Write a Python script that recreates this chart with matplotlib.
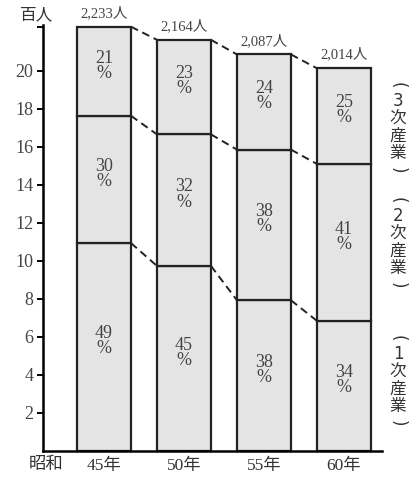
import numpy as np
import matplotlib
matplotlib.use('Agg')
import matplotlib.pyplot as plt

plt.rcParams['font.family'] = ['Liberation Serif', 'Noto Sans CJK JP', 'DejaVu Sans']

# data
years = ['45年', '50年', '55年', '60年']
totals = [2233, 2164, 2087, 2014]          # 人 (百人 on axis)
share_1 = [49, 45, 38, 34]                 # 1次産業 %
share_2 = [30, 32, 38, 41]                 # 2次産業 %
share_3 = [21, 23, 24, 25]                 # 3次産業 %
total_labels = ['2,233人', '2,164人', '2,087人', '2,014人']

tot = np.array(totals) / 100.0
s1 = tot * np.array(share_1) / 100
s2 = tot * np.array(share_2) / 100
s3 = tot * np.array(share_3) / 100

fig = plt.figure(figsize=(4.19, 4.79), dpi=100)
ax = fig.add_axes([0.1026, 0.0585, 0.809, 0.8885])

x = np.arange(len(years))
w = 0.675
fill = '#e4e4e4'
for bottom, h in [(0, s1), (s1, s2), (s1 + s2, s3)]:
    ax.bar(x, h, w, bottom=bottom, color=fill, edgecolor='#222222', linewidth=1.6)

# dashed connectors between segment tops
for level in [s1, s1 + s2, tot]:
    for i in range(len(x) - 1):
        ax.plot([x[i] + w / 2, x[i + 1] - w / 2], [level[i], level[i + 1]],
                ls=(0, (4, 2.5)), color='#222222', lw=1.4)

# percentage labels
for bottom, h, sh in [(np.zeros(4), s1, share_1), (s1, s2, share_2), (s1 + s2, s3, share_3)]:
    for i in range(len(x)):
        ax.text(x[i], bottom[i] + h[i] / 2 + 0.3, f'{sh[i]}\n%', ha='center', va='center',
                fontsize=13, color='#444444', linespacing=0.85)

# totals above bars
for i in range(len(x)):
    ax.text(x[i], tot[i] + 0.35, total_labels[i], ha='center', va='bottom',
            fontsize=10.5, color='#444444')

ax.set_xlim(-0.7625, 3.475)
ax.set_ylim(0, 22.4)
ax.set_yticks([2, 4, 6, 8, 10, 12, 14, 16, 18, 20, 22.3])
ax.set_yticklabels(['2', '4', '6', '8', '10', '12', '14', '16', '18', '20', ''])
ax.set_xticks(x)
ax.set_xticklabels(years)
ax.tick_params(axis='y', direction='out', length=4, width=1.4, labelsize=13, pad=3,
               labelcolor='#444444')
ax.tick_params(axis='x', length=0, labelsize=12.5, pad=5, labelcolor='#333333')
for sp in ['top', 'right']:
    ax.spines[sp].set_visible(False)
ax.spines['left'].set_linewidth(1.8)
ax.spines['bottom'].set_linewidth(1.8)

fig.text(37 / 419, 1 - 15 / 479, '百人', fontsize=12, ha='center', va='center', color='#333333')
fig.text(46 / 419, 1 - 465 / 479, '昭和', fontsize=12.5, ha='center', va='center', color='#333333')

# vertical sector labels on the right
for lab, ytop in [('3', 85), ('2', 200), ('1', 338)]:
    chars = ['(', lab, '次', '産', '業', ')']
    steps = [0, 16, 34, 51, 68, 85]
    for ch, dy in zip(chars, steps):
        rot = -90 if ch in '()' else 0
        fig.text(398 / 419, 1 - (ytop + dy) / 479, ch, fontsize=12, ha='center', va='center',
                 rotation=rot, color='#333333', family=['DejaVu Sans', 'Noto Sans CJK JP'])

fig.savefig('out.png', dpi=100)
